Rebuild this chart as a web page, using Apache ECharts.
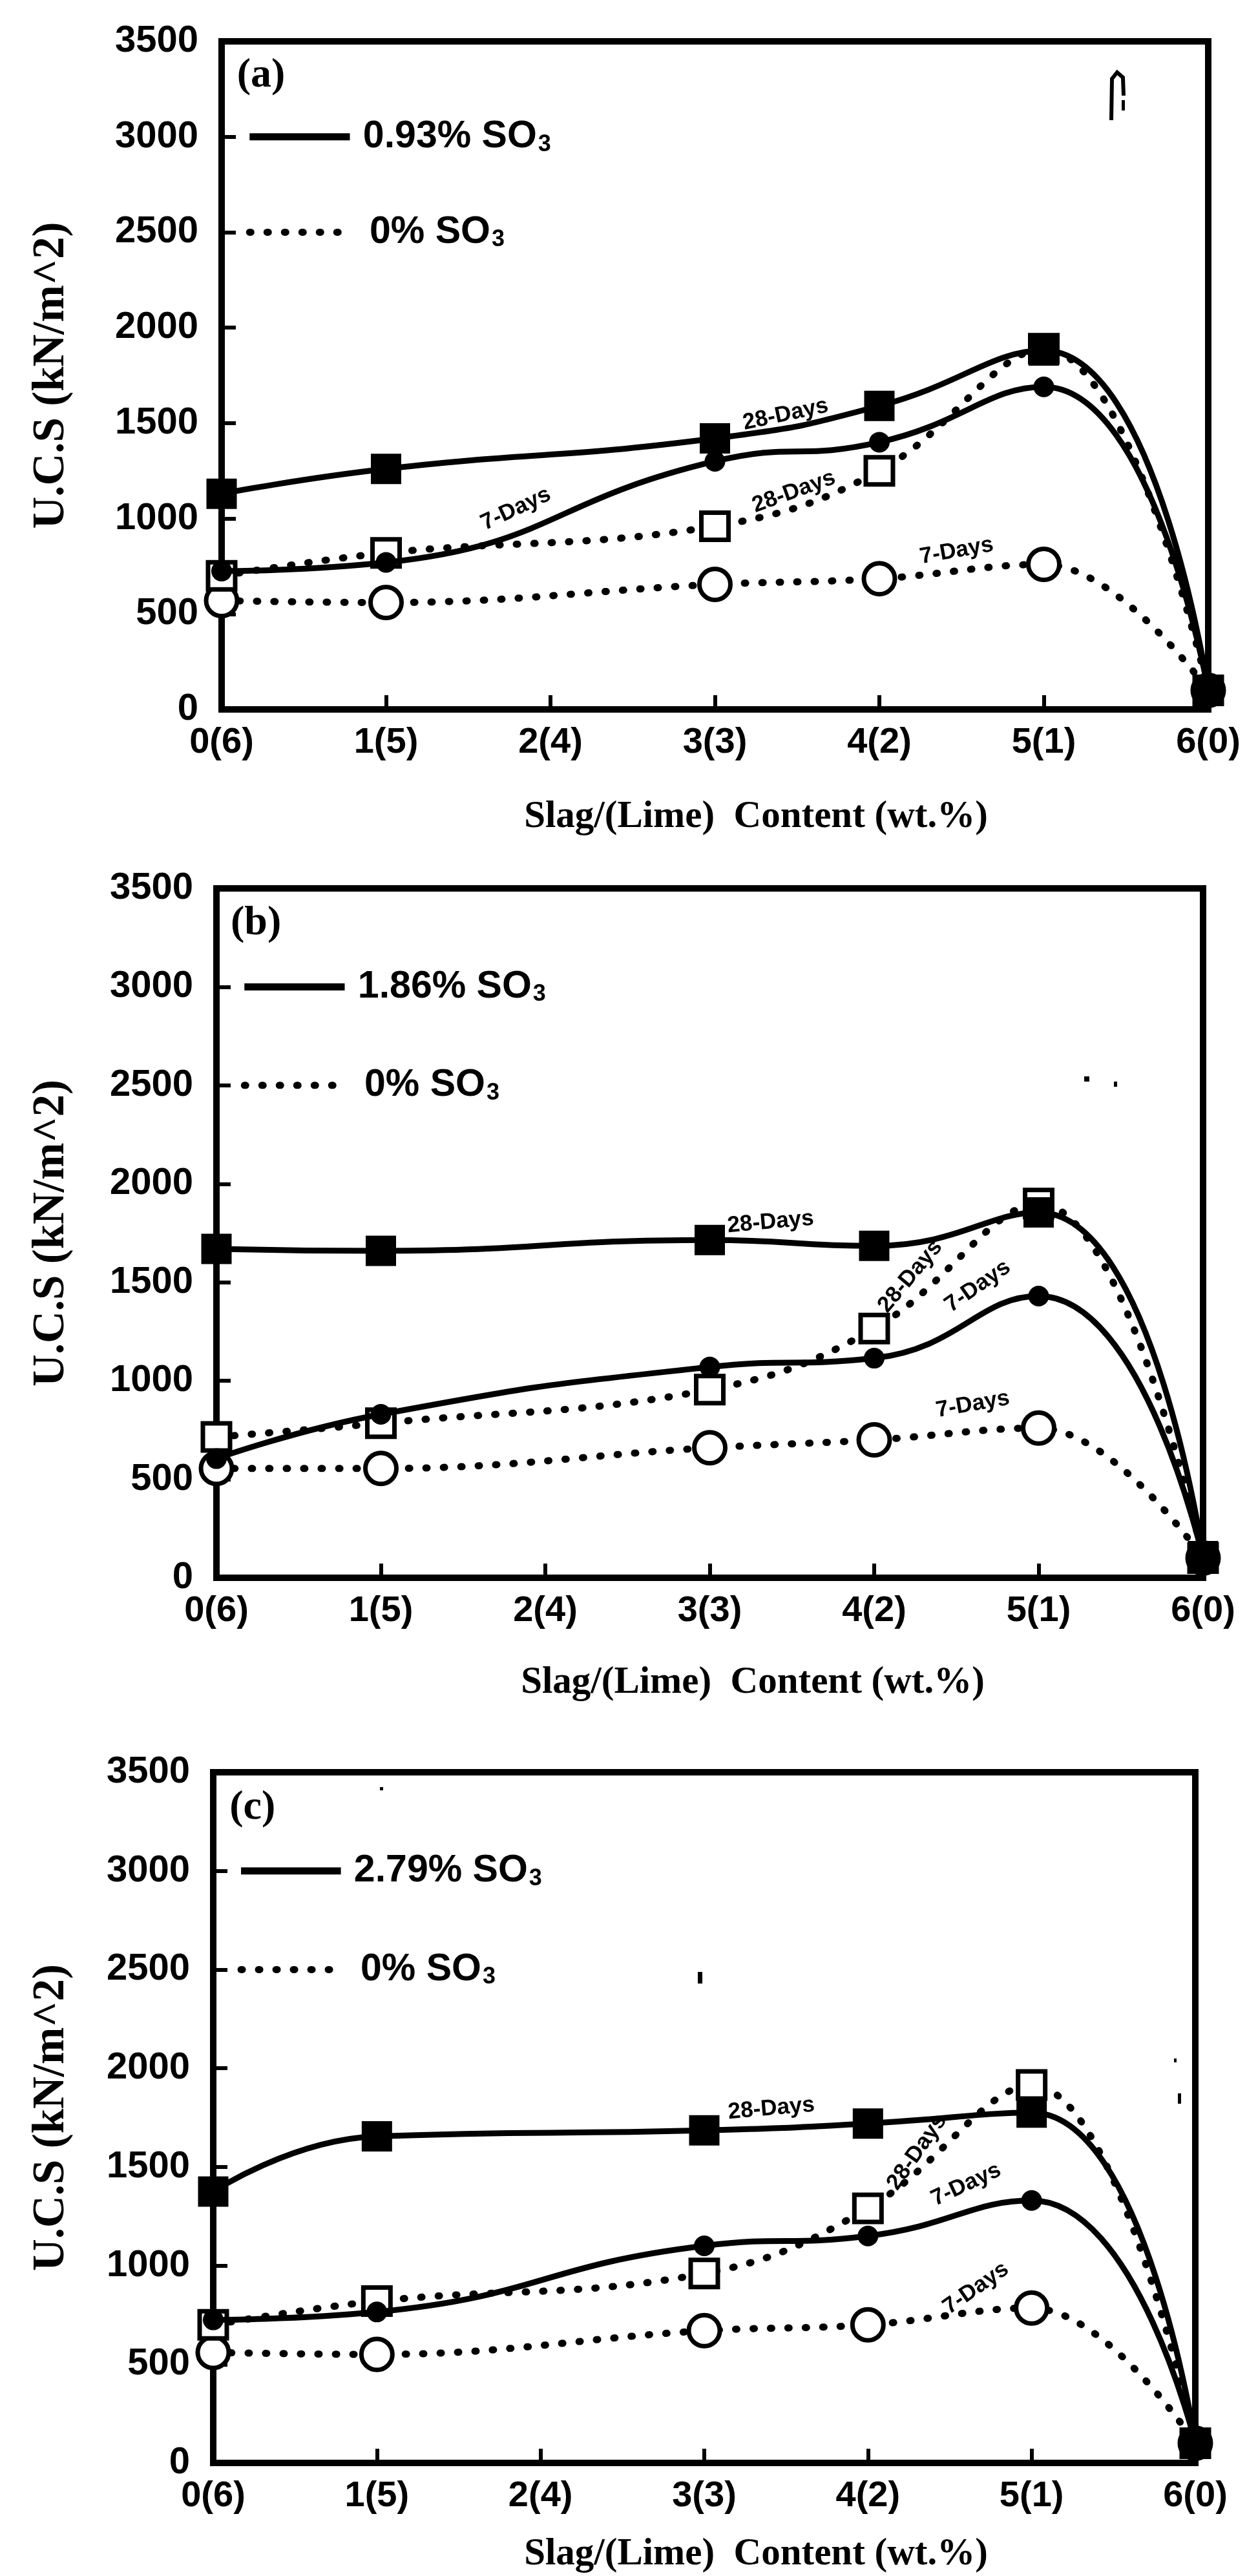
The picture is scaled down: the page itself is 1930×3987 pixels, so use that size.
<!DOCTYPE html>
<html>
<head>
<meta charset="utf-8">
<script src="https://cdn.jsdelivr.net/npm/echarts@6/dist/echarts.min.js"></script>
<style>
html,body{margin:0;padding:0;background:#fff;}
#c{width:1930px;height:3987px;}
</style>
</head>
<body>
<div id="c"></div>
<script>
// ---- data ----
const xLabels = ['0(6)', '1(5)', '2(4)', '3(3)', '4(2)', '5(1)', '6(0)'];
const xs = [0, 1, 3, 4, 5, 6];

const a_so3_28 = [1130, 1260, 1420, 1590, 1880, 100];
const a_so3_7  = [725, 770, 1300, 1400, 1690, 100];
const a_zero_28 = [700, 820, 960, 1250, 1890, 100];
const a_zero_7  = [570, 560, 655, 685, 760, 100];

const b_so3_28 = [1670, 1660, 1715, 1685, 1855, 110];
const b_so3_7  = [605, 830, 1070, 1115, 1430, 100];
const b_zero_28 = [715, 785, 955, 1265, 1900, 100];
const b_zero_7  = [555, 555, 660, 700, 760, 100];

const c_so3_28 = [1375, 1655, 1685, 1720, 1775, 100];
const c_so3_7  = [725, 765, 1100, 1150, 1330, 100];
const c_zero_28 = [700, 820, 960, 1290, 1915, 100];
const c_zero_7  = [560, 550, 670, 700, 785, 100];

const panelLetters = ['(a)', '(b)', '(c)'];
const so3Levels = ['0.93%', '1.86%', '2.79%'];
const zeroLevel = '0%';
const yTitle = 'U.C.S (kN/m^2)';
const xTitle = 'Slag/(Lime)  Content (wt.%)';

// annotation labels: [text, x, value, angleDeg] per panel
const a_notes = [['28-Days', 3.43, 1545, 12], ['7-Days', 1.79, 1050, 25], ['28-Days', 3.48, 1140, 20], ['7-Days', 4.47, 830, 10]];
const b_notes = [['28-Days', 3.37, 1805, 5], ['28-Days', 4.22, 1530, 50], ['7-Days', 4.63, 1480, 35], ['7-Days', 4.6, 880, 10]];
const c_notes = [['28-Days', 3.41, 1795, 5], ['28-Days', 4.3, 1575, 55], ['7-Days', 4.6, 1410, 25], ['7-Days', 4.66, 885, 35]];

// ---- layout ----
const grids = [
  {left: 343, top: 64, width: 1527, height: 1034},
  {left: 335, top: 1375, width: 1527, height: 1067},
  {left: 330, top: 2743, width: 1520, height: 1069}
];
const xTitlePos = [[1170, 1265], [1165, 2605], [1170, 3954]];
const yTitleX = 80;

const panels = [
  {s28: a_so3_28, s7: a_so3_7, z28: a_zero_28, z7: a_zero_7, notes: a_notes},
  {s28: b_so3_28, s7: b_so3_7, z28: b_zero_28, z7: b_zero_7, notes: b_notes},
  {s28: c_so3_28, s7: c_so3_7, z28: c_zero_28, z7: c_zero_7, notes: c_notes}
];

const SANS = "'Liberation Sans', Arial, sans-serif";
const SERIF = "'Liberation Serif', 'DejaVu Serif', serif";
const dotted = {type: [2, 25], cap: 'round', width: 11, color: '#000'};
const solid = {type: 'solid', width: 9, color: '#000'};

function pts(vals) { return xs.map((x, i) => [x, vals[i]]); }

const option = {
  backgroundColor: '#fff',
  animation: false,
  grid: grids.map(g => Object.assign({show: true, borderColor: '#000', borderWidth: 10, backgroundColor: 'transparent'}, g)),
  xAxis: grids.map((g, i) => ({
    type: 'value', gridIndex: i, min: 0, max: 6, interval: 1,
    axisLine: {show: false},
    axisTick: {show: true, inside: true, length: 22, lineStyle: {width: 6, color: '#000'}},
    splitLine: {show: false},
    axisLabel: {formatter: v => xLabels[v], color: '#000', fontFamily: SANS, fontWeight: 'bold', fontSize: 56, margin: 24}
  })),
  yAxis: grids.map((g, i) => ({
    type: 'value', gridIndex: i, min: 0, max: 3500, interval: 500,
    axisLine: {show: false},
    axisTick: {show: true, inside: true, length: 22, lineStyle: {width: 6, color: '#000'}},
    splitLine: {show: false},
    axisLabel: {formatter: v => String(v), color: '#000', fontFamily: SANS, fontWeight: 'bold', fontSize: 58, margin: 36}
  })),
  series: []
};

panels.forEach((p, i) => {
  option.series.push({
    type: 'line', xAxisIndex: i, yAxisIndex: i, data: pts(p.z7), smooth: 0.4, clip: false,
    symbol: 'circle', symbolSize: 48, lineStyle: dotted,
    itemStyle: {color: '#fff', borderColor: '#000', borderWidth: 7}, z: 2
  });
  option.series.push({
    type: 'line', xAxisIndex: i, yAxisIndex: i, data: pts(p.z28), smooth: 0.4, clip: false,
    symbol: 'rect', symbolSize: 42, lineStyle: dotted,
    itemStyle: {color: '#fff', borderColor: '#000', borderWidth: 7}, z: 3
  });
  option.series.push({
    type: 'line', xAxisIndex: i, yAxisIndex: i, data: pts(p.s7), smooth: 0.5, clip: false,
    symbol: 'circle', symbolSize: 32, lineStyle: solid,
    itemStyle: {color: '#000', borderColor: '#000', borderWidth: 0}, z: 4
  });
  option.series.push({
    type: 'line', xAxisIndex: i, yAxisIndex: i, data: pts(p.s28), smooth: 0.5, clip: false,
    symbol: 'rect', symbolSize: 47, lineStyle: solid,
    itemStyle: {color: '#000', borderColor: '#000', borderWidth: 0}, z: 5
  });
});

const chart = echarts.init(document.getElementById('c'), null, {renderer: 'canvas'});
chart.setOption(option);

// ---- decorations (legend, titles, annotations, scan specks) ----
const graphics = [];
panels.forEach((p, i) => {
  const g = grids[i];
  const px = (x, v) => chart.convertToPixel({gridIndex: i}, [x, v]);
  graphics.push({type: 'text', x: yTitleX, y: g.top + g.height / 2, rotation: Math.PI / 2,
    style: {text: yTitle, font: 'bold 69px ' + SERIF, fill: '#000', align: 'center', verticalAlign: 'middle'}});
  graphics.push({type: 'text', x: xTitlePos[i][0], y: xTitlePos[i][1],
    style: {text: xTitle, font: 'bold 59px ' + SERIF, fill: '#000', align: 'center', verticalAlign: 'middle'}});
  const pl = px(0.24, 3320);
  graphics.push({type: 'text', x: pl[0], y: pl[1],
    style: {text: panelLetters[i], font: 'bold 64px ' + SERIF, fill: '#000', align: 'center', verticalAlign: 'middle'}});
  const rich = {m: {font: 'bold 59px ' + SANS, fill: '#000'}, s: {font: 'bold 36px ' + SANS, fill: '#000', verticalAlign: 'bottom', padding: [24, 0, 0, 2]}};
  const l1a = px(0.17, 3000), l1b = px(0.78, 3000);
  graphics.push({type: 'line', shape: {x1: l1a[0], y1: l1a[1], x2: l1b[0], y2: l1b[1]}, style: {stroke: '#000', lineWidth: 11}});
  const t1 = px(0.86, 3000);
  graphics.push({type: 'text', x: t1[0], y: t1[1],
    style: {text: '{m|' + so3Levels[i] + ' SO}{s|3}', fill: '#000', align: 'left', verticalAlign: 'middle', rich: rich}});
  const l2a = px(0.17, 2500), l2b = px(0.78, 2500);
  graphics.push({type: 'line', shape: {x1: l2a[0], y1: l2a[1], x2: l2b[0], y2: l2b[1]}, style: {stroke: '#000', lineWidth: 11, lineDash: [2, 25], lineCap: 'round'}});
  const t2 = px(0.9, 2500);
  graphics.push({type: 'text', x: t2[0], y: t2[1],
    style: {text: '{m|' + zeroLevel + ' SO}{s|3}', fill: '#000', align: 'left', verticalAlign: 'middle', rich: rich}});
  p.notes.forEach(n => {
    const q = px(n[1], n[2]);
    graphics.push({type: 'text', x: q[0], y: q[1], rotation: n[3] * Math.PI / 180,
      style: {text: n[0], font: 'bold 35px ' + SANS, fill: '#000', align: 'center', verticalAlign: 'middle'}});
  });
});
// scan specks present in the original figure
graphics.push({type: 'polyline', shape: {points: [[1720, 186], [1721, 122], [1729, 112], [1738, 120], [1739, 148]]}, style: {stroke: '#000', lineWidth: 6, fill: null}});
graphics.push({type: 'rect', shape: {x: 1736, y: 155, width: 5, height: 16}, style: {fill: '#000'}});
graphics.push({type: 'rect', shape: {x: 1678, y: 1666, width: 8, height: 8}, style: {fill: '#000'}});
graphics.push({type: 'rect', shape: {x: 1724, y: 1674, width: 5, height: 8}, style: {fill: '#000'}});
graphics.push({type: 'rect', shape: {x: 588, y: 2766, width: 5, height: 5}, style: {fill: '#000'}});
graphics.push({type: 'rect', shape: {x: 1080, y: 3052, width: 7, height: 18}, style: {fill: '#000'}});
graphics.push({type: 'rect', shape: {x: 1817, y: 3186, width: 4, height: 6}, style: {fill: '#000'}});
graphics.push({type: 'rect', shape: {x: 1823, y: 3240, width: 5, height: 16}, style: {fill: '#000'}});
chart.setOption({graphic: graphics});
</script>
</body>
</html>
